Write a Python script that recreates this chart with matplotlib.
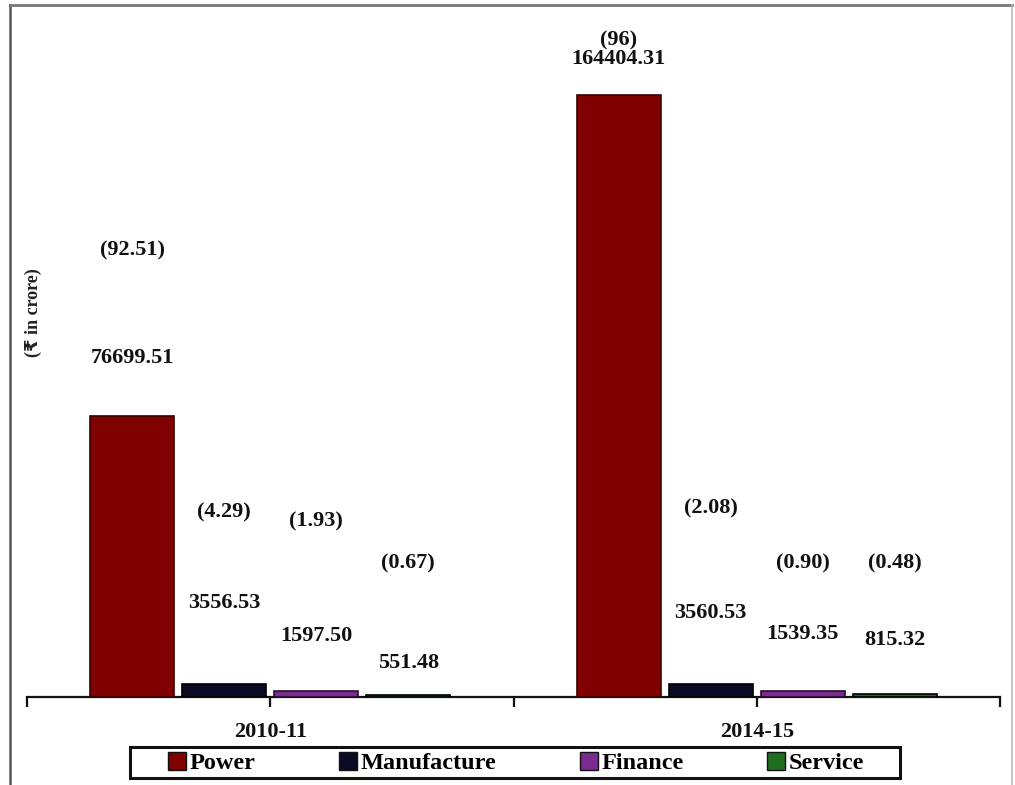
import matplotlib
matplotlib.use("Agg")
import matplotlib.pyplot as plt
from matplotlib.lines import Line2D
from matplotlib.patches import Rectangle

# ---- data ----
years = ["2010-11", "2014-15"]
sectors = ["Power", "Manufacture", "Finance", "Service"]
values_2010 = [76699.51, 3556.53, 1597.50, 551.48]
values_2015 = [164404.31, 3560.53, 1539.35, 815.32]
share_2010 = ["92.51", "4.29", "1.93", "0.67"]
share_2015 = ["96", "2.08", "0.90", "0.48"]

colors = ["#800000", "#0b0b26", "#7a2b8f", "#1f6e1f"]
edge_colors = ["#3a0000", "#000000", "#2a0a30", "#000000"]

# label layout (pixel rows in the reference image)
val_rows = [[358, 603, 636, 663], [59, 613, 634, 640]]
pct_rows = [[250, 512, 521, 563], [40, 508, 563, 563]]

plt.rcParams['font.family'] = ['Liberation Serif', 'DejaVu Sans']
plt.rcParams['font.weight'] = 'bold'

W, H = 1015, 785
fig = plt.figure(figsize=(W / 100, H / 100), dpi=100)

ax_left, ax_right = 27, 1000
ax_bottom, ax_top = 697, 30
ax = fig.add_axes([ax_left / W, 1 - ax_bottom / H, (ax_right - ax_left) / W,
                   (ax_bottom - ax_top) / H])

ymax = max(values_2015) * (ax_bottom - ax_top) / (ax_bottom - 95)
ax.set_ylim(0, ymax)
ax.set_xlim(0, 4)

group_centers = [1, 3]
step = 0.378
width = 0.345
all_vals = [values_2010, values_2015]
all_shares = [share_2010, share_2015]

for g, gc in enumerate(group_centers):
    for i, sec in enumerate(sectors):
        x = gc + (i - 1.5) * step
        ax.bar(x, all_vals[g][i], width=width, color=colors[i],
               edgecolor=edge_colors[i], linewidth=1.2, zorder=3)
        yv = (ax_bottom - val_rows[g][i]) / (ax_bottom - ax_top)
        yp = (ax_bottom - pct_rows[g][i]) / (ax_bottom - ax_top)
        ax.text(x, yv, f"{all_vals[g][i]:.2f}", transform=ax.get_xaxis_transform(),
                ha='center', va='center', fontsize=16, fontweight='bold', color='#111111')
        ax.text(x, yp, f"({all_shares[g][i]})", transform=ax.get_xaxis_transform(),
                ha='center', va='center', fontsize=16, fontweight='bold', color='#111111')

for s in ['left', 'right', 'top']:
    ax.spines[s].set_visible(False)
ax.spines['bottom'].set_linewidth(1.6)
ax.spines['bottom'].set_color('#111111')
ax.set_yticks([])
ax.set_xticks([0, 1, 2, 3, 4])
ax.set_xticklabels(["", years[0], "", years[1], ""], fontsize=16, fontweight='bold')
ax.tick_params(axis='x', direction='out', length=7, width=1.6, pad=11, colors='#111111')

# y label
fig.text(33 / W, 1 - 313 / H, "(₹ in crore)", rotation=90, ha='center', va='center',
         fontsize=13, fontweight='bold', color='#222222')

# legend (frame drawn separately)
handles = [Line2D([0], [0], marker='s', linestyle='none', markersize=13.5,
                  markerfacecolor=colors[i], markeredgecolor='#111111', markeredgewidth=1.0)
           for i in range(4)]
leg = fig.legend(handles, sectors, loc='center', bbox_to_anchor=(516 / W, 1 - 763 / H),
                 ncol=4, frameon=False, handlelength=0.75,
                 handletextpad=0.12, columnspacing=3.45, borderpad=0.0,
                 prop={'weight': 'bold', 'size': 17.5})
fig.add_artist(Rectangle((130 / W, 1 - 778 / H), (900 - 130) / W, (778 - 747) / H,
                         transform=fig.transFigure, fill=False, edgecolor='#111111', lw=2.2))

# outer frame
fig.add_artist(Line2D([10 / W, 10 / W], [0, 1 - 5 / H], transform=fig.transFigure,
                      color='#555555', lw=1.8))
fig.add_artist(Line2D([10 / W, 1012 / W], [1 - 5 / H, 1 - 5 / H], transform=fig.transFigure,
                      color='#777777', lw=2.0))
fig.add_artist(Line2D([1012 / W, 1012 / W], [0, 1 - 5 / H], transform=fig.transFigure,
                      color='#bbbbbb', lw=1.2))

fig.savefig("out.png", dpi=100)
